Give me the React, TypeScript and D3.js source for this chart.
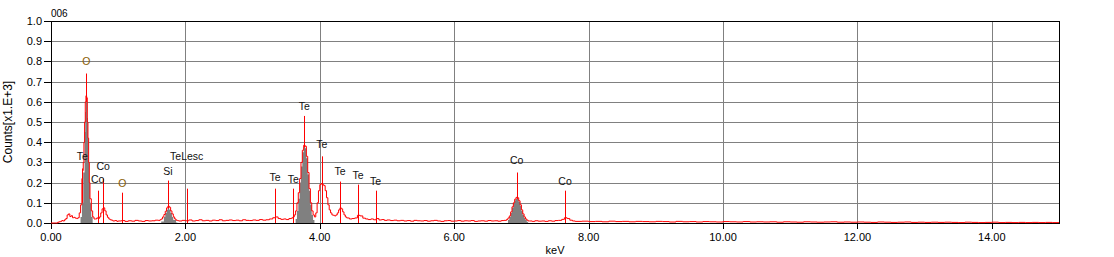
import React from "react";
import * as d3 from "d3";

const title = "006";
const xTicks = [0, 2, 4, 6, 8, 10, 12, 14];
const yTicks = [0, 0.1, 0.2, 0.3, 0.4, 0.5, 0.6, 0.7, 0.8, 0.9, 1.0];

// measured spectrum: [keV, counts x1000]
const spectrum: [number, number][] = [
  [0, 0], [0.06, 0], [0.1, 0.004], [0.12, 0.006], [0.14, 0.008], [0.16, 0.012], [0.18, 0.01], [0.2, 0.016],
  [0.22, 0.022], [0.24, 0.04], [0.26, 0.045], [0.28, 0.032], [0.3, 0.036], [0.32, 0.026], [0.34, 0.028],
  [0.36, 0.024], [0.38, 0.022], [0.4, 0.026], [0.42, 0.05], [0.44, 0.09], [0.46, 0.22], [0.47, 0.26],
  [0.48, 0.3], [0.49, 0.4], [0.5, 0.5], [0.51, 0.6], [0.52, 0.63], [0.53, 0.62], [0.54, 0.5], [0.55, 0.42],
  [0.56, 0.3], [0.57, 0.2], [0.58, 0.12], [0.6, 0.06], [0.62, 0.03], [0.64, 0.02], [0.66, 0.02], [0.68, 0.025],
  [0.7, 0.022], [0.72, 0.03], [0.74, 0.05], [0.76, 0.07], [0.78, 0.075], [0.8, 0.06], [0.82, 0.04],
  [0.84, 0.028], [0.86, 0.02], [0.88, 0.016], [0.9, 0.014], [0.92, 0.01], [0.95, 0.012], [0.98, 0.008],
  [1.0, 0.01], [1.05, 0.012], [1.1, 0.008], [1.15, 0.011], [1.2, 0.009], [1.25, 0.013], [1.3, 0.01],
  [1.35, 0.008], [1.4, 0.012], [1.45, 0.01], [1.5, 0.011], [1.55, 0.014], [1.6, 0.012], [1.62, 0.016],
  [1.64, 0.02], [1.66, 0.03], [1.68, 0.042], [1.7, 0.058], [1.72, 0.075], [1.74, 0.084], [1.76, 0.078],
  [1.78, 0.06], [1.8, 0.045], [1.82, 0.03], [1.84, 0.02], [1.86, 0.014], [1.88, 0.012], [1.9, 0.01],
  [1.95, 0.013], [2.0, 0.011], [2.05, 0.015], [2.1, 0.01], [2.15, 0.012], [2.2, 0.016], [2.25, 0.011],
  [2.3, 0.013], [2.35, 0.01], [2.4, 0.014], [2.45, 0.012], [2.5, 0.016], [2.55, 0.011], [2.6, 0.013],
  [2.65, 0.015], [2.7, 0.012], [2.75, 0.014], [2.8, 0.011], [2.85, 0.016], [2.9, 0.013], [2.95, 0.012],
  [3.0, 0.015], [3.05, 0.013], [3.1, 0.017], [3.15, 0.014], [3.2, 0.016], [3.25, 0.02], [3.3, 0.026],
  [3.34, 0.03], [3.38, 0.022], [3.42, 0.018], [3.46, 0.02], [3.5, 0.017], [3.54, 0.022], [3.58, 0.025],
  [3.6, 0.03], [3.62, 0.04], [3.64, 0.06], [3.66, 0.1], [3.68, 0.15], [3.7, 0.22], [3.72, 0.3], [3.74, 0.36],
  [3.76, 0.385], [3.78, 0.38], [3.8, 0.33], [3.82, 0.25], [3.84, 0.17], [3.86, 0.1], [3.88, 0.06],
  [3.9, 0.04], [3.92, 0.03], [3.94, 0.05], [3.96, 0.1], [3.98, 0.16], [4.0, 0.19], [4.02, 0.195],
  [4.04, 0.19], [4.06, 0.185], [4.08, 0.16], [4.1, 0.125], [4.12, 0.09], [4.14, 0.065], [4.16, 0.05],
  [4.18, 0.04], [4.2, 0.038], [4.22, 0.035], [4.24, 0.04], [4.26, 0.05], [4.28, 0.065], [4.3, 0.075],
  [4.32, 0.07], [4.34, 0.055], [4.36, 0.04], [4.38, 0.03], [4.4, 0.025], [4.44, 0.02], [4.48, 0.022],
  [4.52, 0.025], [4.56, 0.038], [4.6, 0.035], [4.64, 0.024], [4.68, 0.02], [4.72, 0.017], [4.76, 0.02],
  [4.8, 0.016], [4.84, 0.022], [4.88, 0.015], [4.92, 0.017], [4.96, 0.013], [5.0, 0.015], [5.05, 0.012],
  [5.1, 0.014], [5.15, 0.011], [5.2, 0.013], [5.25, 0.01], [5.3, 0.012], [5.35, 0.009], [5.4, 0.013],
  [5.45, 0.011], [5.5, 0.01], [5.55, 0.012], [5.6, 0.009], [5.65, 0.011], [5.7, 0.013], [5.75, 0.01],
  [5.8, 0.008], [5.85, 0.011], [5.9, 0.012], [5.95, 0.009], [6.0, 0.01], [6.05, 0.012], [6.1, 0.009],
  [6.15, 0.011], [6.2, 0.01], [6.25, 0.012], [6.3, 0.008], [6.35, 0.01], [6.4, 0.011], [6.45, 0.009],
  [6.5, 0.012], [6.55, 0.01], [6.6, 0.011], [6.65, 0.009], [6.7, 0.012], [6.74, 0.013], [6.78, 0.018],
  [6.8, 0.025], [6.82, 0.035], [6.84, 0.055], [6.86, 0.08], [6.88, 0.1], [6.9, 0.118], [6.92, 0.127],
  [6.94, 0.125], [6.96, 0.11], [6.98, 0.09], [7.0, 0.065], [7.02, 0.045], [7.04, 0.03], [7.06, 0.02],
  [7.08, 0.014], [7.1, 0.01], [7.12, 0.01], [7.16, 0.008], [7.2, 0.011], [7.25, 0.009], [7.3, 0.01],
  [7.35, 0.008], [7.4, 0.011], [7.45, 0.009], [7.5, 0.012], [7.55, 0.013], [7.6, 0.018], [7.64, 0.026],
  [7.68, 0.022], [7.72, 0.014], [7.76, 0.01], [7.8, 0.008], [7.9, 0.009], [8.0, 0.007], [8.1, 0.008],
  [8.2, 0.006], [8.3, 0.009], [8.4, 0.007], [8.5, 0.008], [8.6, 0.006], [8.7, 0.008], [8.8, 0.007],
  [8.9, 0.006], [9.0, 0.008], [9.1, 0.007], [9.2, 0.005], [9.3, 0.008], [9.4, 0.006], [9.5, 0.007],
  [9.6, 0.005], [9.7, 0.007], [9.8, 0.006], [9.9, 0.005], [10.0, 0.007], [10.1, 0.006], [10.2, 0.005],
  [10.3, 0.007], [10.4, 0.005], [10.5, 0.006], [10.6, 0.005], [10.7, 0.006], [10.8, 0.004], [10.9, 0.006],
  [11.0, 0.005], [11.1, 0.004], [11.2, 0.006], [11.3, 0.005], [11.4, 0.004], [11.5, 0.005], [11.6, 0.006],
  [11.7, 0.004], [11.8, 0.005], [11.9, 0.004], [12.0, 0.005], [12.1, 0.004], [12.2, 0.003], [12.3, 0.005],
  [12.4, 0.004], [12.5, 0.003], [12.6, 0.004], [12.7, 0.005], [12.8, 0.003], [12.9, 0.004], [13.0, 0.003],
  [13.1, 0.004], [13.2, 0.003], [13.3, 0.004], [13.4, 0.003], [13.5, 0.002], [13.6, 0.004], [13.7, 0.003],
  [13.8, 0.002], [13.9, 0.003], [14.0, 0.004], [14.1, 0.002], [14.2, 0.003], [14.3, 0.002], [14.4, 0.003],
  [14.5, 0.002], [14.6, 0.003], [14.7, 0.002], [14.8, 0.003], [14.9, 0.002], [15.0, 0.002],
];

// fitted peak areas (gray)
const oPeak: [number, number][] = [
  [0.42, 0], [0.44, 0.03], [0.46, 0.1], [0.48, 0.25], [0.5, 0.45], [0.51, 0.55], [0.52, 0.6], [0.53, 0.6],
  [0.54, 0.52], [0.55, 0.42], [0.56, 0.3], [0.57, 0.2], [0.58, 0.1], [0.6, 0.03], [0.62, 0],
];
const siPeak: [number, number][] = [
  [1.6, 0], [1.64, 0.008], [1.68, 0.03], [1.7, 0.05], [1.72, 0.066], [1.74, 0.072], [1.76, 0.066],
  [1.78, 0.05], [1.8, 0.03], [1.82, 0.015], [1.86, 0.003], [1.88, 0],
];
const teLaPeak: [number, number][] = [
  [3.62, 0], [3.64, 0.02], [3.66, 0.06], [3.68, 0.12], [3.7, 0.2], [3.72, 0.28], [3.74, 0.35], [3.76, 0.375],
  [3.78, 0.37], [3.8, 0.32], [3.82, 0.24], [3.84, 0.16], [3.86, 0.09], [3.88, 0.04], [3.9, 0.015], [3.92, 0],
];
const coKaPeak: [number, number][] = [
  [6.76, 0], [6.8, 0.015], [6.82, 0.03], [6.84, 0.05], [6.86, 0.075], [6.88, 0.095], [6.9, 0.113],
  [6.92, 0.12], [6.94, 0.118], [6.96, 0.105], [6.98, 0.085], [7.0, 0.06], [7.02, 0.04], [7.04, 0.025],
  [7.06, 0.015], [7.08, 0.006], [7.1, 0],
];

// element line markers
const markerLabels = ["Te", "O", "Co", "Co", "O", "Si", "TeLesc", "Te", "Te", "Te", "Te", "Te", "Te", "Te", "Co", "Co"];
const markerKeV = [0.466, 0.525, 0.695, 0.776, 1.06, 1.74, 2.02, 3.335, 3.606, 3.769, 4.03, 4.3, 4.57, 4.83, 6.93, 7.65];
const markerTop = [0.27, 0.74, 0.16, 0.22, 0.15, 0.21, 0.17, 0.17, 0.17, 0.53, 0.33, 0.205, 0.19, 0.16, 0.25, 0.16];
const labelLevel = [0.31, 0.78, 0.2, 0.26, 0.18, 0.24, 0.31, 0.21, 0.2, 0.56, 0.37, 0.24, 0.22, 0.19, 0.29, 0.19];

const W = 1114;
const H = 257;
const L = 51, R = 1059, T = 21, B = 223;
const FONT = "'Liberation Sans', Arial, sans-serif";

export default function App() {
  const x = d3.scaleLinear().domain([0, 15]).range([L, R]);
  const y = d3.scaleLinear().domain([0, 1]).range([B, T]);

  const line = d3.line<[number, number]>().x((d) => x(d[0])).y((d) => y(d[1])).curve(d3.curveStepAfter);
  const area = d3
    .area<[number, number]>()
    .x((d) => x(d[0]))
    .y0(y(0))
    .y1((d) => y(d[1]))
    .curve(d3.curveStepAfter);

  const px = (v: number) => Math.round(v) + 0.5;

  return (
    <svg width={W} height={H} style={{ position: "absolute", left: 0, top: 0, background: "#fff" }} fontFamily={FONT}>
      <rect x={0} y={0} width={W} height={H} fill="#fff" />
      {/* grid */}
      {yTicks.filter((t) => t > 0 && t < 1).map((t) => (
        <line key={"gy" + t} x1={L} x2={R} y1={px(y(t))} y2={px(y(t))} stroke="#808080" strokeWidth={1} />
      ))}
      {xTicks.filter((t) => t > 0).map((t) => (
        <line key={"gx" + t} x1={px(x(t))} x2={px(x(t))} y1={T} y2={B} stroke="#808080" strokeWidth={1} />
      ))}
      {/* frame */}
      <rect x={L + 0.5} y={T + 0.5} width={R - L} height={B - T} fill="none" stroke="#000" strokeWidth={1} />
      {/* ticks */}
      {yTicks.map((t) => (
        <g key={"ty" + t}>
          <line x1={L - 7} x2={L} y1={px(y(t))} y2={px(y(t))} stroke="#000" />
          <text x={42} y={y(t) + 4} fontSize={11} textAnchor="end" fill="#000">
            {t.toFixed(1)}
          </text>
        </g>
      ))}
      {xTicks.map((t) => (
        <g key={"tx" + t}>
          <line x1={px(x(t))} x2={px(x(t))} y1={B} y2={B + 6} stroke="#000" />
          <text x={x(t)} y={241} fontSize={11} textAnchor="middle" fill="#000">
            {t.toFixed(2)}
          </text>
        </g>
      ))}
      {/* marker lines (behind peaks) */}
      {markerKeV.map((k, i) => (
        <line key={"ml" + i} x1={px(x(k))} x2={px(x(k))} y1={y(0)} y2={y(markerTop[i])} stroke="#ff0000" strokeWidth={1} />
      ))}
      {/* fitted peaks */}
      {[oPeak, siPeak, teLaPeak, coKaPeak].map((p, i) => (
        <path key={"pk" + i} d={area(p) || ""} fill="#808080" />
      ))}
      {/* spectrum */}
      <path d={line(spectrum) || ""} fill="none" stroke="#ff0000" strokeWidth={1} />
      {/* marker labels */}
      {markerKeV.map((k, i) => (
        <text
          key={"mt" + i}
          x={x(k)}
          y={y(labelLevel[i])}
          fontSize={10.5}
          textAnchor="middle"
          fill={markerLabels[i] === "O" ? "#8a5c00" : "#111"}
        >
          {markerLabels[i]}
        </text>
      ))}
      {/* titles */}
      <text x={51} y={17} fontSize={10} fill="#000">
        {title}
      </text>
      <text x={555} y={254} fontSize={11} textAnchor="middle" fill="#000">
        keV
      </text>
      <text transform={`translate(12,${(T + B) / 2}) rotate(-90)`} fontSize={12} textAnchor="middle" fill="#000">
        Counts[x1.E+3]
      </text>
    </svg>
  );
}
